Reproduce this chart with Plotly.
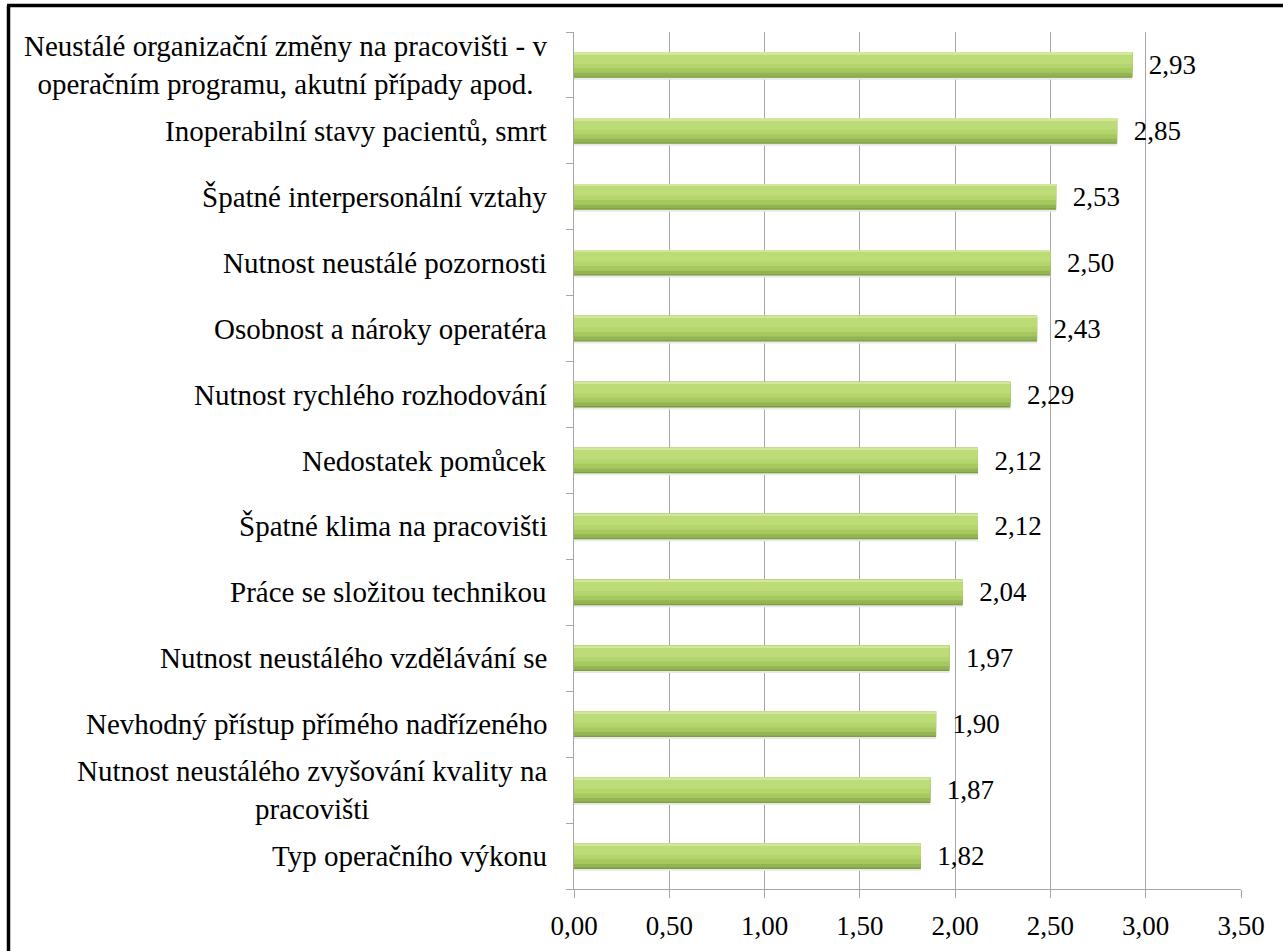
import plotly.graph_objects as go

# kategorie odshora dolů
kategorie = [
    'Neustálé organizační změny na pracovišti - v<br>operačním programu, akutní případy apod.',
    'Inoperabilní stavy pacientů, smrt',
    'Špatné interpersonální vztahy',
    'Nutnost neustálé pozornosti',
    'Osobnost a nároky operatéra',
    'Nutnost rychlého rozhodování',
    'Nedostatek pomůcek',
    'Špatné klima na pracovišti',
    'Práce se složitou technikou',
    'Nutnost neustálého vzdělávání se',
    'Nevhodný přístup přímého nadřízeného',
    'Nutnost neustálého zvyšování kvality na<br>pracovišti',
    'Typ operačního výkonu',
]
hodnoty = [2.93, 2.85, 2.53, 2.50, 2.43, 2.29, 2.12, 2.12, 2.04, 1.97, 1.90, 1.87, 1.82]

x_ticks = [0, 0.5, 1.0, 1.5, 2.0, 2.5, 3.0, 3.5]
x_labels = [f'{v:.2f}'.replace('.', ',') for v in x_ticks]

# osa y jde zdola nahoru -> obrátit pořadí
cat = kategorie[::-1]
val = hodnoty[::-1]
txt = ['\u00a0\u00a0' + f'{v:.2f}'.replace('.', ',') for v in val]

FONT = 'Liberation Serif'
FS = 27        # čísla
FS_CAT = 29    # popisky kategorií
GRID = '#a6a6a6'

# vrstvy sloupce – imitace přechodu (offset, šířka, barva)
vrstvy = [
    (-0.225, 0.40, '#e8e8e8'),
    (-0.195, 0.39, '#7f9c40'),
    (-0.175, 0.37, '#93b452'),
    (-0.12, 0.315, '#a6c85e'),
    (-0.05, 0.225, '#b4d56d'),
    (0.02, 0.14, '#bddc78'),
    (0.165, 0.03, '#d0e79c'),
]

fig = go.Figure()
for i, (off, w, c) in enumerate(vrstvy):
    fig.add_trace(go.Bar(
        y=cat, x=val, orientation='h', width=w, offset=off,
        marker=dict(color=c, line=dict(width=0)),
        text=txt if i == 1 else None,
        textposition='outside' if i == 1 else None,
        constraintext='none',
        textfont=dict(family=FONT, size=FS, color='black'),
        cliponaxis=False, showlegend=False,
        hoverinfo='x+y' if i == 1 else 'skip'))

# popisky kategorií (víceřádkové jsou zarovnané na střed)
for c in cat:
    fig.add_annotation(x=0, xref='paper', y=c, yref='y', text=c,
                       xanchor='right', yanchor='middle', align='center',
                       xshift=-25, showarrow=False,
                       font=dict(family=FONT, size=FS_CAT, color='black'))

W, H = 1283, 951
L, R, T, B = 574, 42, 32, 62

# černý rámeček (levá a horní strana, pravá a dolní jsou mimo obraz)
fig.add_shape(type='line', xref='paper', yref='paper',
              xsizemode='pixel', xanchor=0, x0=-565.5, x1=-565.5,
              ysizemode='pixel', yanchor=1, y0=26.5, y1=-H,
              line=dict(color='black', width=3.5), layer='above')
fig.add_shape(type='line', xref='paper', yref='paper',
              xsizemode='pixel', xanchor=0, x0=-567, x1=W,
              ysizemode='pixel', yanchor=1, y0=26.5, y1=26.5,
              line=dict(color='black', width=3.5), layer='above')

fig.update_layout(
    width=W, height=H,
    margin=dict(l=L, r=R, t=T, b=B, autoexpand=False),
    barmode='overlay',
    plot_bgcolor='white', paper_bgcolor='white',
    font=dict(family=FONT, size=FS, color='black'),
    xaxis=dict(range=[0, 3.5], tickvals=x_ticks, ticktext=x_labels,
               showgrid=True, gridcolor=GRID, gridwidth=1,
               showline=True, linecolor=GRID, linewidth=1,
               ticks='outside', ticklen=8, tickcolor=GRID,
               ticklabelstandoff=5,
               zeroline=False, tickfont=dict(family=FONT, size=FS)),
    yaxis=dict(categoryorder='array', categoryarray=cat,
               range=[-0.5, len(cat) - 0.5],
               showline=True, linecolor=GRID, linewidth=1,
               ticks='outside', ticklen=7, tickcolor=GRID,
               tickson='boundaries', showticklabels=False,
               showgrid=False),
)

fig.write_html('out.html', config={'displayModeBar': False},
               post_script="document.body.style.margin='0';")
